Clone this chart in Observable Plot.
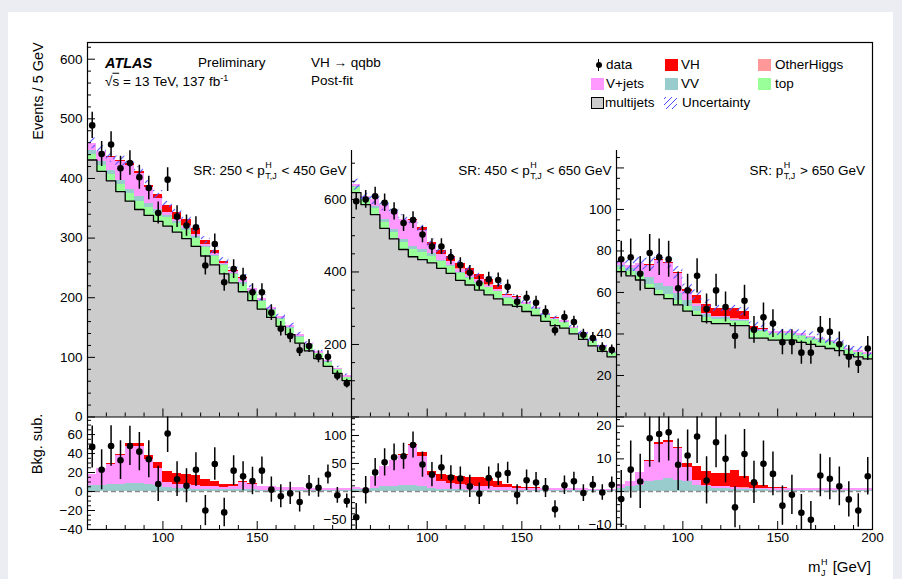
<!DOCTYPE html>
<html>
<head>
<meta charset="utf-8">
<script src="https://cdn.jsdelivr.net/npm/d3@7"></script>
<script src="https://cdn.jsdelivr.net/npm/@observablehq/plot@0.6"></script>
<style>
html,body{margin:0;padding:0;background:#ececf3;}
#page{position:relative;width:902px;height:579px;overflow:hidden;font-family:"Liberation Sans",Arial,Helvetica,sans-serif;color:#000;}
#sheet{position:absolute;left:8px;top:12px;width:885px;height:567px;background:#fff;}
#page > svg{position:absolute;left:0;top:0;}
.t{position:absolute;white-space:nowrap;line-height:1;font-size:13.5px;transform:translateY(-50%);}
.r{transform:translate(-100%,-50%);}
.ss{display:inline-block;position:relative;width:13px;height:10px;font-size:9px;}
.ss .sp{position:absolute;left:0.5px;top:-4px;}
.ss .sb{position:absolute;left:0.5px;top:7px;}
.sw{position:absolute;width:13px;height:12px;box-sizing:border-box;}
.rot{position:absolute;white-space:nowrap;line-height:1;font-size:14.5px;transform:translate(-50%,-50%) rotate(-90deg);}
</style>
</head>
<body>
<div id="page"><div id="sheet"></div></div>
<script>
// ---------------- data ----------------
const binWidth = 5;                 // GeV
const mJLow = [60, 60, 65];         // lower mJ edge of each pT region
const mJHigh = 200;
const regionPrefix = ["SR: 250 < ", "SR: 450 < ", "SR: "];
const regionSuffix = [" < 450 GeV", " < 650 GeV", " > 650 GeV"];

// SR 250 < pT < 450 GeV
const data1 = [489,441,457,417,426,402,384,342,398,336,321,318,254,290,226,248,234,209,209,175,148,136,112,119,101,101,69,56];
const bkgSub1 = [47,23,48,33,48,42,34,8,61,13,6,23,-20,29,-22,22,16,11,22,2,-5,-2,-11,6,4,18,-4,-10];
const multijet1 = [431,412,396,378,362,348,338,328,320,310,299,286,270,255,240,225,210,195,181,167,152,138,124,111,98,85,73,61];
const top1 = [10,10,11,12,12,13,13,14,14,14,14,14,14,14,14,14,13,13,13,12,12,11,10,9,8,7,6,5];
const vv1 = [6,6,7,7,8,8,7,6,4,3,3,2,2,2,2,2,2,2,1,1,1,1,1,1,1,1,1,1];
const vjets1 = [12,18,21,31,39,39,27,18,5,4,4,4,3,3,2,3,8,5,4,4,3,3,3,2,2,2,2,2];
const otherHiggs1 = [0,0,0,0,0,0,0,0,0.4,0.5,0.5,0.5,0.4,0.3,0.2,0.1,0,0,0,0,0,0,0,0,0,0,0,0];
const vh1 = [0,0,1,1.5,3.5,3.5,3.5,7,12,12,10,10,7,5,3,2,1,1,0.5,0.3,0.2,0.2,0.1,0.1,0.1,0.1,0.1,0.1];
const unc1 = [9,9,9,8,8,8,8,7,7,7,7,6,6,6,6,5,5,5,5,4,4,4,4,3,3,3,3,3];

// SR 450 < pT < 650 GeV
const data2 = [595,600,609,591,567,535,543,503,470,470,441,419,398,369,380,378,359,318,329,315,290,239,276,262,227,218,191,185];
const bkgSub2 = [-46,2,34,52,61,63,83,48,30,43,25,23,9,-4,24,30,33,-6,20,16,6,-32,11,18,-3,12,-2,12];
const multijet2 = [619,586,558,520,491,462,442,434,425,410,396,377,364,350,337,326,309,305,291,280,264,252,245,229,214,196,181,166];
const top2 = [15,15,16,17,18,18,19,19,19,19,19,19,19,19,19,19,18,18,18,17,17,16,15,14,13,12,11,10];
const vv2 = [3,4,6,8,9,10,10,9,6,4,3,3,2,2,2,2,2,2,2,2,2,1,1,1,1,1,1,1];
const vjets2 = [4,2,20,37,46,55,72,53,22,14,11,9,8,7,6,5,5,4,4,4,3,4,4,4,4,3,3,3];
const otherHiggs2 = [0,0,0,0,0,0,0,0,0.5,0.6,0.6,0.6,0.5,0.4,0.3,0.2,0,0,0,0,0,0,0,0,0,0,0,0];
const vh2 = [0,0,0,0,0,1,1,8,8,12,14,14,15,15,14,10,5,2,0.5,0.3,0.2,0.2,0.1,0.1,0.1,0.1,0.1,0.1];
const unc2 = [15,14,14,13,13,12,12,11,10,10,9,9,8,8,8,7,7,7,6,6,6,5,5,5,5,4,4,4];

// SR pT > 650 GeV
const data3 = [76,77,69,79,77,76,62,61,68,52,61,53,39,56,42,48,45,36,36,31,31,42,41,35,29,26,33];
const bkgSub3 = [-2.3,6.7,3.1,16.3,17.6,18.1,8.2,11,16.8,3.4,15.1,10,-4.8,11.5,2.8,8.5,5.4,-4.3,-1,-6.5,-8.6,4.9,3.9,1.6,-2.4,-5.8,4.7];
const multijet3 = [70,68,66,62,59,57,54,51,49,46,45,45,44,44,38,38,37,37,37,36,35,34,33,32,30,29,28];
const top3 = [2,2,2,2,2,2,2,2,2,2,2,2,2,2,3,3,3,3,3,3,3,3,3,3,2,2,2];
const vv3 = [1,1.5,2,3,3.5,4,3.5,3,2,1.5,1,1,0.5,0.5,0.5,0.5,0.3,0.3,0.3,0.3,0.3,0.3,0.3,0.3,0.3,0.3,0.3];
const vjets3 = [1.3,1.5,3.9,6.2,10.8,11.1,9.6,4.4,1.4,0.3,0.5,0.5,0.7,0.5,0.5,0.5,0.7,0.7,0.7,0.7,0.7,0.7,0.7,0.7,0.7,0.7,0.7];
const otherHiggs3 = [0,0,0,0,0,0,0,0,0.1,0.1,0.1,0.1,0.1,0.1,0,0,0,0,0,0,0,0,0,0,0,0,0];
const vh3 = [0,0,0,0.3,0.7,0.5,0.4,1.1,4.2,4.1,3.9,3.9,5.2,3.6,1.8,0.8,0.2,0.1,0,0,0,0,0,0,0,0,0];
const unc3 = [3,3,3,3,3,3,3,2.5,2.5,2.5,2,2,2,2,2,2,2,2,2,2,2,2,2,2,2,2,2];

// tick labels
const yLabelsMain1 = [0,100,200,300,400,500,600];
const yLabelsMain2 = [200,400,600];
const yLabelsMain3 = [20,40,60,80,100];
const yLabelsRatio1 = [-40,-20,0,20,40,60];
const yLabelsRatio2 = [-50,50,100];
const yLabelsRatio3 = [-10,10,20];
const xLabels12 = [100,150];
const xLabels3 = [100,150,200];

// ---------------- style / layout ----------------
const C = {multijet:"#cccccc", top:"#99ff99", vv:"#99cccc", vjets:"#ff99ff", otherHiggs:"#ff9999", vh:"#ff0000", unc:"#4b4bff"};
const W = 902, H = 579;
const F = {L:87, T:42, M:416.5, B:529, R:872};
const FONT = "Liberation Sans, Arial, Helvetica, sans-serif";

const panels = [
  {lo:mJLow[0], data:data1, bkg:bkgSub1, mj:multijet1, top:top1, vv:vv1, vjets:vjets1, oh:otherHiggs1, vh:vh1, unc:unc1,
   fx:[F.L,351], mainTop:F.T, yMain:[0,628], yMainMaj:yLabelsMain1, yMainLab:yLabelsMain1, yMainMin:20,
   yRatio:[-40,78.5], yRatioMaj:yLabelsRatio1, yRatioLab:yLabelsRatio1, yRatioMin:5, xLab:xLabels12},
  {lo:mJLow[1], data:data2, bkg:bkgSub2, mj:multijet2, top:top2, vv:vv2, vjets:vjets2, oh:otherHiggs2, vh:vh2, unc:unc2,
   fx:[351,616], mainTop:150, yMain:[0,735], yMainMaj:[0,...yLabelsMain2], yMainLab:yLabelsMain2, yMainMin:50,
   yRatio:[-68,133], yRatioMaj:[-50,0,50,100], yRatioLab:yLabelsRatio2, yRatioMin:10, xLab:xLabels12},
  {lo:mJLow[2], data:data3, bkg:bkgSub3, mj:multijet3, top:top3, vv:vv3, vjets:vjets3, oh:otherHiggs3, vh:vh3, unc:unc3,
   fx:[616,F.R], mainTop:150, yMain:[0,128.4], yMainMaj:[0,...yLabelsMain3,120], yMainLab:yLabelsMain3, yMainMin:5,
   yRatio:[-11.6,22.8], yRatioMaj:[-10,0,10,20], yRatioLab:yLabelsRatio3, yRatioMin:2, xLab:xLabels3}
];

const page = document.getElementById("page");

function base(frame, xdom, ydom, marks){
  return Plot.plot({
    width: W, height: H,
    marginLeft: frame[0], marginRight: W - frame[1], marginTop: frame[2], marginBottom: H - frame[3],
    x: {domain: xdom}, y: {domain: ydom},
    style: {background: "transparent", overflow: "visible", fontFamily: FONT, fontSize: "13.5px", color: "black"},
    marks
  });
}

function addHatch(svg, id){
  const defs = d3.select(svg).insert("defs", ":first-child");
  const p = defs.append("pattern").attr("id", id).attr("patternUnits", "userSpaceOnUse").attr("width", 8).attr("height", 8);
  p.append("path").attr("d", "M1,7L7,1").attr("stroke", C.unc).attr("stroke-width", 1.1).attr("stroke-opacity", 0.85);
}

function tickMarks(p, ydom, yMaj, yMinStep, xdom){
  const yMin = d3.range(Math.ceil(ydom[0] / yMinStep) * yMinStep, ydom[1], yMinStep).filter(v => !yMaj.includes(v));
  const xMaj = [100, 150, 200].filter(v => v >= xdom[0] && v <= xdom[1]);
  const xMin = d3.range(Math.ceil(xdom[0] / 10) * 10, xdom[1] + 0.01, 10).filter(v => !xMaj.includes(v));
  return [
    Plot.axisY(yMaj, {anchor: "left", tickSize: 8, dx: 8, fill: "none", label: null, strokeWidth: 1}),
    Plot.axisY(yMin, {anchor: "left", tickSize: 4, dx: 4, fill: "none", label: null, strokeWidth: 1}),
    Plot.axisX(xMaj, {anchor: "bottom", tickSize: 8, dy: -8, fill: "none", label: null, strokeWidth: 1}),
    Plot.axisX(xMin, {anchor: "bottom", tickSize: 4, dy: -4, fill: "none", label: null, strokeWidth: 1})
  ];
}

panels.forEach((p, k) => {
  const xdom = [p.lo, mJHigh];
  const rows = p.data.map((d, i) => {
    const x1 = p.lo + i * binWidth;
    const s0 = p.mj[i], s1 = s0 + p.top[i], s2 = s1 + p.vv[i], s3 = s2 + p.vjets[i], s4 = s3 + p.oh[i], s5 = s4 + p.vh[i];
    const err = Math.sqrt(d);
    const r0 = p.vv[i], r1 = r0 + p.vjets[i], r2 = r1 + p.oh[i], r3 = r2 + p.vh[i];
    return {x1, x2: x1 + binWidth, xc: x1 + binWidth / 2, d, err, s0, s1, s2, s3, s4, s5, unc: p.unc[i],
            bkg: p.bkg[i], r0, r1, r2, r3};
  });
  const step = d3.range(rows.length + 1).map(i => ({x: p.lo + i * binWidth, y: p.mj[Math.min(i, rows.length - 1)]}));
  const rect = (y1, y2, fill) => Plot.rect(rows, {x1: "x1", x2: "x2", y1, y2, fill, shapeRendering: "crispEdges"});

  // ---- main panel ----
  const mainMarks = [
    rect(0, "s0", C.multijet),
    rect("s0", "s1", C.top),
    rect("s1", "s2", C.vv),
    rect("s2", "s3", C.vjets),
    rect("s3", "s4", C.otherHiggs),
    rect("s4", "s5", C.vh),
    Plot.line(step, {x: "x", y: "y", curve: "step-after", stroke: "black", strokeWidth: 1.3}),
    Plot.rect(rows, {x1: "x1", x2: "x2", y1: r => r.s5 - r.unc, y2: r => r.s5 + r.unc, fill: `url(#hatch${k})`}),
    Plot.ruleX(rows, {x: "xc", y1: r => r.d - r.err, y2: r => r.d + r.err, stroke: "black", strokeWidth: 1.5, clip: true}),
    Plot.dot(rows, {x: "xc", y: "d", r: 3.3, fill: "black", stroke: "none"}),
    Plot.ruleY([p.yMain[0]], {stroke: "black", strokeWidth: 1.2}),
    ...tickMarks(p, p.yMain, p.yMainMaj, p.yMainMin, xdom),
    Plot.axisY(p.yMainLab, {anchor: "left", tickSize: 0, tickPadding: 5, fontSize: 13.5, label: null})
  ];
  if (k > 0) mainMarks.push(Plot.ruleX([p.lo], {stroke: "black", strokeWidth: 1.2}));
  const mainSvg = base([p.fx[0], p.fx[1], p.mainTop, F.M], xdom, p.yMain, mainMarks);
  addHatch(mainSvg, `hatch${k}`);
  page.appendChild(mainSvg);

  // ---- background-subtracted panel ----
  const ratioMarks = [
    Plot.rect(rows, {x1: "x1", x2: "x2", y1: 0, y2: "r0", fill: C.vv, shapeRendering: "crispEdges"}),
    Plot.rect(rows, {x1: "x1", x2: "x2", y1: "r0", y2: "r1", fill: C.vjets, shapeRendering: "crispEdges"}),
    Plot.rect(rows, {x1: "x1", x2: "x2", y1: "r1", y2: "r2", fill: C.otherHiggs, shapeRendering: "crispEdges"}),
    Plot.rect(rows, {x1: "x1", x2: "x2", y1: "r2", y2: "r3", fill: C.vh, shapeRendering: "crispEdges"}),
    Plot.ruleY([0], {stroke: "#8a8a8a", strokeWidth: 1.5, strokeDasharray: "5,3"}),
    Plot.ruleX(rows, {x: "xc", y1: r => r.bkg - r.err, y2: r => r.bkg + r.err, stroke: "black", strokeWidth: 1.5, clip: true}),
    Plot.dot(rows, {x: "xc", y: "bkg", r: 3.3, fill: "black", stroke: "none", clip: true}),
    ...tickMarks(p, p.yRatio, p.yRatioMaj, p.yRatioMin, xdom),
    Plot.axisY(p.yRatioLab, {anchor: "left", tickSize: 0, tickPadding: 5, fontSize: 13.5, label: null}),
    Plot.axisX(p.xLab, {anchor: "bottom", tickSize: 0, tickPadding: 3, fontSize: 13.5, label: null})
  ];
  if (k > 0) ratioMarks.push(Plot.ruleX([p.lo], {stroke: "black", strokeWidth: 1.2}));
  page.appendChild(base([p.fx[0], p.fx[1], F.M, F.B], xdom, p.yRatio, ratioMarks));
});

// outer frame
page.appendChild(Plot.plot({
  width: W, height: H, marginLeft: F.L, marginRight: W - F.R, marginTop: F.T, marginBottom: H - F.B,
  style: {background: "transparent", overflow: "visible"},
  marks: [Plot.frame({stroke: "black", strokeWidth: 1.2})]
}));

// ---------------- text ----------------
function txt(html, x, y, cls = "", css = "") {
  const d = document.createElement("div");
  d.className = "t " + cls;
  d.style.cssText = `left:${x}px;top:${y}px;${css}`;
  d.innerHTML = html;
  page.appendChild(d);
  return d;
}
const ptJ = `p<span class="ss"><span class="sp">H</span><span class="sb">T,J</span></span>`;
txt("ATLAS", 105, 63, "", "font-weight:bold;font-style:italic;font-size:14.5px");
txt("Preliminary", 198, 63);
txt(`√<span style="text-decoration:overline">s</span> = 13 TeV, 137 fb<sup style="font-size:9px;vertical-align:5px">-1</sup>`, 105, 81);
txt("VH → qqbb", 311, 63);
txt("Post-fit", 311, 81);
txt(`${regionPrefix[0]}${ptJ}${regionSuffix[0]}`, 346.5, 171, "r");
txt(`${regionPrefix[1]}${ptJ}${regionSuffix[1]}`, 611.5, 171, "r");
txt(`${regionPrefix[2]}${ptJ}${regionSuffix[2]}`, 865, 171, "r");

// legend
function sw(x, y, style) {
  const d = document.createElement("div");
  d.className = "sw";
  d.style.cssText = `left:${x}px;top:${y - 6}px;${style}`;
  page.appendChild(d);
}
const dot = document.createElement("div");
dot.style.cssText = "position:absolute;left:595.5px;top:62px;width:6px;height:6px;border-radius:50%;background:#000";
page.appendChild(dot);
const bar = document.createElement("div");
bar.style.cssText = "position:absolute;left:598px;top:59px;width:1.2px;height:12px;background:#000";
page.appendChild(bar);
txt("data", 606, 65);
sw(665, 65, `background:${C.vh}`); txt("VH", 681, 65);
sw(758, 65, `background:${C.otherHiggs}`); txt("OtherHiggs", 775, 65);
sw(591, 83.5, `background:${C.vjets}`); txt("V+jets", 606, 83.5);
sw(665, 83.5, `background:${C.vv}`); txt("VV", 681, 83.5);
sw(758, 83.5, `background:${C.top}`); txt("top", 775, 83.5);
sw(591, 102.5, `background:${C.multijet};border:1.5px solid #000`); txt("multijets", 605, 102.5);
sw(664, 102.5, `background:repeating-linear-gradient(-45deg, transparent 0 3px, ${C.unc} 3px 4.2px)`); txt("Uncertainty", 682, 102.5);

// axis titles
function rot(html, x, y) {
  const d = document.createElement("div");
  d.className = "rot";
  d.style.cssText = `left:${x}px;top:${y}px`;
  d.innerHTML = html;
  page.appendChild(d);
}
rot("Events / 5 GeV", 38, 91);
rot("Bkg. sub.", 37, 444);
txt(`m<span class="ss" style="width:8px"><span class="sp">H</span><span class="sb">J</span></span> [GeV]`, 871, 566, "r", "font-size:15px");
</script>
</body>
</html>
